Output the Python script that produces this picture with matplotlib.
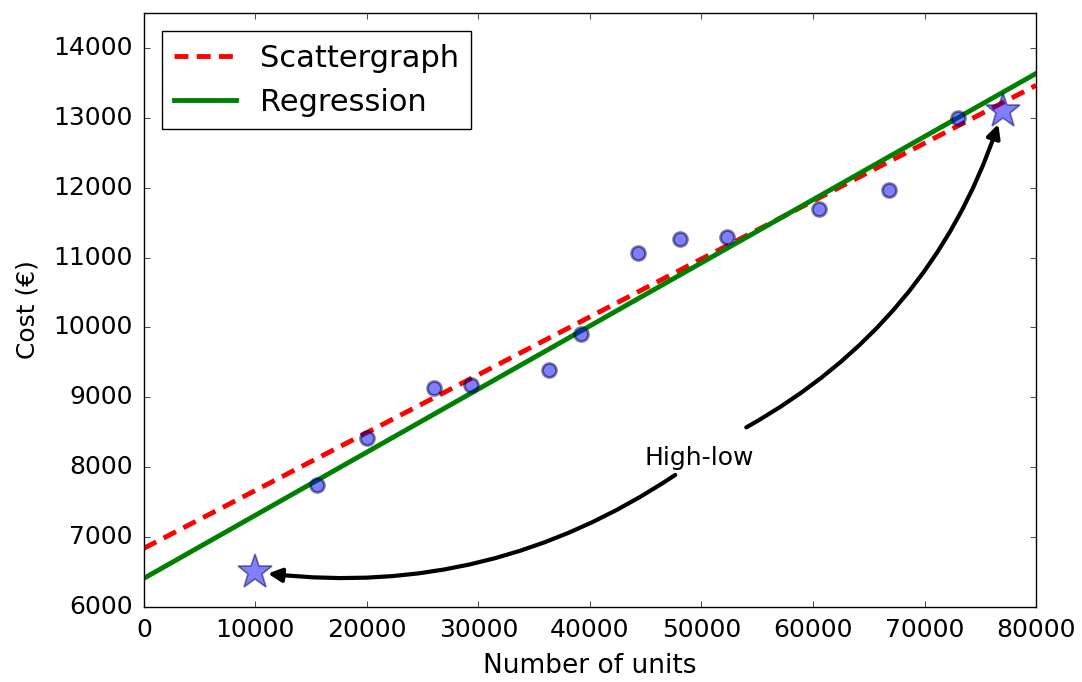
import matplotlib
matplotlib.use("Agg")
import matplotlib.pyplot as plt
import numpy as np

plt.style.use("classic")

# data
units = [15500, 20000, 26000, 29300, 36300, 39200, 44300, 48100, 52300, 60500, 66800, 73000]
cost = [7750, 8420, 9130, 9170, 9390, 9910, 11070, 11260, 11300, 11690, 11970, 12990]

highlow_units = [10000, 77000]
highlow_cost = [6500, 13100]

# lines: intercept, slope
scatter_line = [6840, 0.0828]
regr_line = [6410, 0.0903]

fig = plt.figure(figsize=(10.82, 6.82), dpi=100, facecolor="white")
ax = fig.add_axes([0.133, 0.11, 0.8245, 0.871])
ax.set_facecolor("white")

xs = np.array([0, 80000])
ax.plot(xs, scatter_line[0] + scatter_line[1]*xs, "r--", lw=3.5, dashes=(10, 6), label="Scattergraph")
ax.plot(xs, regr_line[0] + regr_line[1]*xs, "g-", lw=3.5, label="Regression")

ax.plot(units, cost, "o", color="b", alpha=0.5, markersize=10, markeredgewidth=2,
        markeredgecolor="#000040")
ax.plot(highlow_units, highlow_cost, "*", color="b", alpha=0.5, markersize=26,
        markeredgewidth=1.2, markeredgecolor="#000040")

ax.annotate("High-low", xy=(highlow_units[0], highlow_cost[0]), xytext=(49800, 8130),
            fontsize=18, ha="center", va="center",
            arrowprops=dict(arrowstyle="-|>", lw=3, color="k", mutation_scale=20,
                            connectionstyle="arc3,rad=-0.2", shrinkB=9))
ax.annotate("", xy=(highlow_units[1], highlow_cost[1]), xytext=(53800, 8550),
            arrowprops=dict(arrowstyle="-|>", lw=3, color="k", mutation_scale=20,
                            connectionstyle="arc3,rad=0.2", shrinkB=10))

ax.set_xlim(0, 80000)
ax.set_ylim(6000, 14500)
ax.set_yticks(np.arange(6000, 14001, 1000))
ax.tick_params(labelsize=18, pad=8)
ax.set_xlabel("Number of units", fontsize=19, labelpad=8)
ax.set_ylabel("Cost (€)", fontsize=18, labelpad=10)

leg = ax.legend(loc="upper left", fontsize=22, handlelength=2.0, numpoints=1,
                borderaxespad=0.6)

fig.savefig("out.png", dpi=100, facecolor="white")
